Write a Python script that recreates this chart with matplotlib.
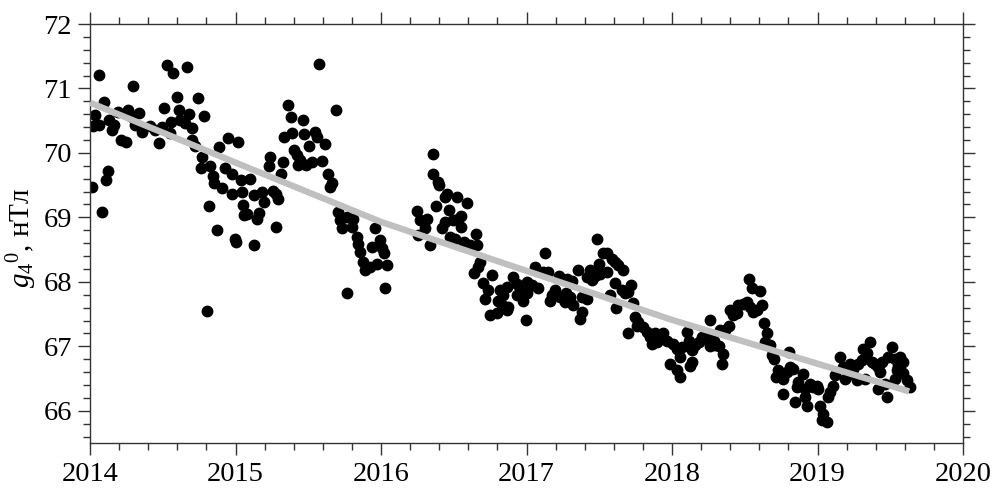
import numpy as np
import matplotlib
matplotlib.use("Agg")
import matplotlib.pyplot as plt
from matplotlib.ticker import MultipleLocator

plt.rcParams['font.family'] = ['Liberation Serif', 'DejaVu Serif']
plt.rcParams['mathtext.fontset'] = 'custom'
plt.rcParams['mathtext.rm'] = 'Liberation Serif'
plt.rcParams['mathtext.it'] = 'Liberation Serif:italic'

# weekly g4^0 estimates, decimal years / nT
t1 = [2014.016, 2014.062, 2014.080, 2014.098, 2014.108, 2014.122, 2014.034, 2014.021,
      2014.062, 2014.131, 2014.149, 2014.167, 2014.195, 2014.213, 2014.245, 2014.259,
      2014.287, 2014.298, 2014.309, 2014.337, 2014.359, 2014.412, 2014.447, 2014.474,
      2014.493, 2014.511, 2014.527, 2014.573, 2014.550, 2014.557, 2014.596, 2014.612,
      2014.619, 2014.653, 2014.665, 2014.680, 2014.703, 2014.699, 2014.744, 2014.786,
      2014.722, 2014.772, 2014.763, 2014.825, 2014.818, 2014.843, 2014.854, 2014.871,
      2014.802, 2014.887, 2014.909, 2014.928, 2014.951, 2014.974, 2014.978, 2015.019,
      2015.038, 2015.043, 2015.054, 2015.061, 2014.997, 2015.003]
v1 = [69.47, 71.21, 69.08, 70.79, 69.58, 69.72, 70.59, 70.42,
      70.43, 70.51, 70.36, 70.43, 70.64, 70.20, 70.17, 70.66,
      70.56, 71.04, 70.43, 70.62, 70.33, 70.41, 70.36, 70.16,
      70.40, 70.69, 71.36, 71.24, 70.31, 70.48, 70.86, 70.66,
      70.51, 70.46, 71.34, 70.60, 70.38, 70.20, 70.85, 70.57,
      70.11, 69.93, 69.77, 69.80, 69.17, 69.64, 69.54, 68.81,
      67.55, 70.09, 69.45, 69.76, 70.23, 69.68, 69.37, 70.17,
      69.58, 69.40, 69.19, 69.04, 68.66, 68.62]

t2 = [2015.576, 2015.363, 2015.379, 2015.462, 2015.691, 2015.333, 2015.386, 2015.471,
      2015.546, 2015.562, 2015.615, 2015.505, 2015.402, 2015.421, 2015.443, 2015.432,
      2015.485, 2015.524, 2015.592, 2015.237, 2015.232, 2015.329, 2015.311, 2015.638,
      2015.661, 2015.649, 2015.100, 2015.127, 2015.180, 2015.196, 2015.256, 2015.278,
      2015.294, 2015.077, 2015.164, 2015.146, 2015.278, 2015.127, 2015.707, 2015.718,
      2015.730, 2015.764, 2015.810, 2015.799, 2015.959, 2015.833, 2015.844, 2015.856,
      2015.936, 2015.993, 2016.005, 2016.021, 2015.878, 2015.890, 2015.924, 2015.970,
      2016.039, 2015.768, 2016.027]
v2 = [71.38, 70.75, 70.55, 70.51, 70.66, 70.24, 70.31, 70.29,
      70.33, 70.25, 70.14, 70.10, 70.04, 69.97, 69.89, 69.81,
      69.81, 69.86, 69.88, 69.93, 69.80, 69.86, 69.68, 69.68,
      69.54, 69.47, 69.59, 69.35, 69.40, 69.24, 69.41, 69.36,
      69.28, 69.05, 69.07, 68.98, 68.85, 68.57, 69.09, 68.96,
      68.83, 69.01, 68.98, 68.85, 68.83, 68.70, 68.59, 68.46,
      68.54, 68.65, 68.52, 68.44, 68.31, 68.18, 68.23, 68.28,
      68.26, 67.83, 67.91]

t3 = [2016.359, 2016.355, 2016.394, 2016.401, 2016.452, 2016.440, 2016.524, 2016.593,
      2016.245, 2016.378, 2016.469, 2016.548, 2016.531, 2016.268, 2016.318, 2016.302,
      2016.440, 2016.417, 2016.497, 2016.548, 2016.256, 2016.474, 2016.509, 2016.570,
      2016.653, 2016.612, 2016.662, 2016.337, 2016.680, 2016.669, 2016.639, 2016.761,
      2016.703, 2016.738, 2016.715, 2016.909, 2016.933, 2016.864, 2016.841, 2016.806,
      2016.830, 2016.875, 2016.933, 2016.978, 2017.001, 2016.955, 2016.749, 2016.795,
      2016.997, 2016.864, 2016.818, 2017.001]
v3 = [69.98, 69.68, 69.55, 69.50, 69.36, 69.31, 69.32, 69.23,
      69.10, 69.17, 69.12, 69.02, 68.97, 68.96, 68.97, 68.83,
      68.93, 68.83, 68.96, 68.85, 68.72, 68.69, 68.66, 68.62,
      68.74, 68.57, 68.57, 68.57, 68.31, 68.23, 68.14, 68.10,
      67.98, 67.87, 67.74, 68.08, 67.97, 67.92, 67.79, 67.71,
      67.64, 67.61, 67.79, 67.71, 67.82, 67.90, 67.48, 67.51,
      67.41, 67.56, 67.87, 68.00]

t4 = [2017.482, 2017.127, 2017.528, 2017.551, 2017.585, 2017.608, 2017.631, 2017.665,
      2017.500, 2017.356, 2017.436, 2017.459, 2017.505, 2017.551, 2017.414, 2017.448,
      2017.471, 2017.058, 2017.116, 2017.150, 2017.226, 2017.276, 2017.311, 2017.608,
      2017.716, 2017.700, 2017.654, 2017.677, 2017.081, 2017.036, 2017.196, 2017.173,
      2017.230, 2017.162, 2017.271, 2017.299, 2017.265, 2017.322, 2017.380, 2017.418,
      2017.380, 2017.368, 2017.574, 2017.615, 2017.730, 2017.746, 2017.768, 2017.757,
      2017.700, 2017.803, 2017.826, 2017.849, 2017.883, 2017.940, 2017.964, 2017.895,
      2017.860, 2018.009, 2018.032, 2017.986, 2018.032, 2018.055]
v4 = [68.66, 68.44, 68.45, 68.44, 68.36, 68.31, 68.26, 68.18,
      68.28, 68.19, 68.19, 68.15, 68.12, 68.15, 68.07, 68.03,
      68.09, 68.23, 68.16, 68.16, 68.09, 68.05, 68.01, 67.98,
      67.95, 67.84, 67.87, 67.82, 67.91, 67.95, 67.87, 67.79,
      67.77, 67.71, 67.82, 67.77, 67.69, 67.64, 67.77, 67.74,
      67.53, 67.43, 67.79, 67.59, 67.67, 67.46, 67.38, 67.31,
      67.20, 67.30, 67.22, 67.14, 67.20, 67.20, 67.09, 67.07,
      67.04, 67.04, 66.96, 66.73, 66.63, 66.83]

t5 = [2018.068, 2018.103, 2018.115, 2018.126, 2018.137, 2018.160, 2018.184, 2018.206,
      2018.229, 2018.253, 2018.287, 2018.298, 2018.264, 2018.321, 2018.264, 2018.332,
      2018.367, 2018.394, 2018.055, 2018.124, 2018.135, 2018.341, 2018.353, 2018.399,
      2018.421, 2018.449, 2018.456, 2018.490, 2018.513, 2018.536, 2018.559, 2018.582,
      2018.616, 2018.529, 2018.548, 2018.605, 2018.632, 2018.651, 2018.639, 2018.674,
      2018.685, 2018.701, 2018.806, 2018.731, 2018.715, 2018.754, 2018.788, 2018.811,
      2018.834, 2018.765, 2018.765, 2018.845, 2018.902, 2018.868, 2018.857, 2018.914,
      2018.948, 2018.971, 2018.995, 2019.006, 2018.926, 2019.017, 2019.040, 2019.029,
      2019.063, 2019.074]
v5 = [66.99, 67.22, 67.09, 66.99, 66.94, 67.02, 67.07, 67.15,
      67.17, 67.12, 67.09, 67.02, 67.00, 67.00, 67.41, 67.25,
      67.25, 67.31, 66.53, 66.70, 66.76, 66.73, 66.88, 67.56,
      67.48, 67.51, 67.64, 67.66, 67.69, 67.61, 67.53, 67.56,
      67.64, 68.04, 67.90, 67.86, 67.36, 67.21, 67.07, 67.02,
      66.86, 66.81, 66.91, 66.63, 66.52, 66.55, 66.60, 66.68,
      66.65, 66.50, 66.26, 66.14, 66.57, 66.45, 66.37, 66.34,
      66.42, 66.37, 66.39, 66.34, 66.08, 66.08, 65.95, 65.85,
      65.82, 66.21]

t6 = [2018.914, 2019.086, 2019.109, 2019.120, 2019.155, 2019.177, 2019.189, 2019.212,
      2019.223, 2019.246, 2019.269, 2019.280, 2019.304, 2019.315, 2019.338, 2019.361,
      2019.327, 2019.373, 2019.395, 2019.418, 2019.441, 2019.430, 2019.418, 2019.464,
      2019.480, 2019.487, 2019.510, 2019.533, 2019.567, 2019.590, 2019.556, 2019.544,
      2019.567, 2019.533, 2019.590, 2019.613, 2019.636]
v6 = [66.21, 66.29, 66.39, 66.55, 66.84, 66.68, 66.50, 66.55,
      66.73, 66.65, 66.47, 66.73, 66.78, 66.96, 66.89, 67.07,
      66.50, 66.76, 66.73, 66.68, 66.76, 66.60, 66.34, 66.42,
      66.22, 66.83, 66.99, 66.81, 66.83, 66.76, 66.70, 66.63,
      66.58, 66.50, 66.58, 66.47, 66.37]

# smooth trend (grey curve)
trend_t = [2014.0, 2015.0, 2016.0, 2017.0, 2018.0, 2019.0, 2019.63]
trend_v = [70.78, 69.85, 68.93, 68.17, 67.41, 66.73, 66.30]

years = np.array(t1 + t2 + t3 + t4 + t5 + t6)
g40 = np.array(v1 + v2 + v3 + v4 + v5 + v6)
assert len(years) == len(g40)

fig = plt.figure(figsize=(10.08, 5.0), dpi=100)
ax = fig.add_axes([90 / 1008, 1 - 443 / 500, 873 / 1008, 419 / 500])

ax.plot(years, g40, 'o', color='black', ms=7.5, mec='black', zorder=2)
ax.plot(trend_t, trend_v, '-', color='#c0c0c0', lw=4.6, solid_capstyle='butt', zorder=3)

ax.set_xlim(2014, 2020)
ax.set_ylim(65.5, 72)
ax.xaxis.set_major_locator(MultipleLocator(1))
ax.xaxis.set_minor_locator(MultipleLocator(0.2))
ax.yaxis.set_major_locator(MultipleLocator(1))
ax.yaxis.set_minor_locator(MultipleLocator(0.2))
ax.xaxis.set_major_formatter(plt.FuncFormatter(lambda v, p: '%d' % v))
ax.yaxis.set_major_formatter(plt.FuncFormatter(lambda v, p: '%d' % v))

ax.tick_params(which='both', direction='out', top=True, right=True,
               labelsize=20.5, width=1, color='#333333')
ax.tick_params(which='major', length=8.5)
ax.tick_params(which='minor', length=5)
ax.tick_params(axis='x', which='major', pad=5.5)
ax.tick_params(axis='y', which='major', pad=4.5)
for s in ax.spines.values():
    s.set_linewidth(1)
    s.set_color('#333333')

ax.set_ylabel(r'$g_4{}^0$, нТл', fontsize=21)
ax.yaxis.set_label_coords(-0.058, 0.49)

fig.savefig('out.png', dpi=100)
